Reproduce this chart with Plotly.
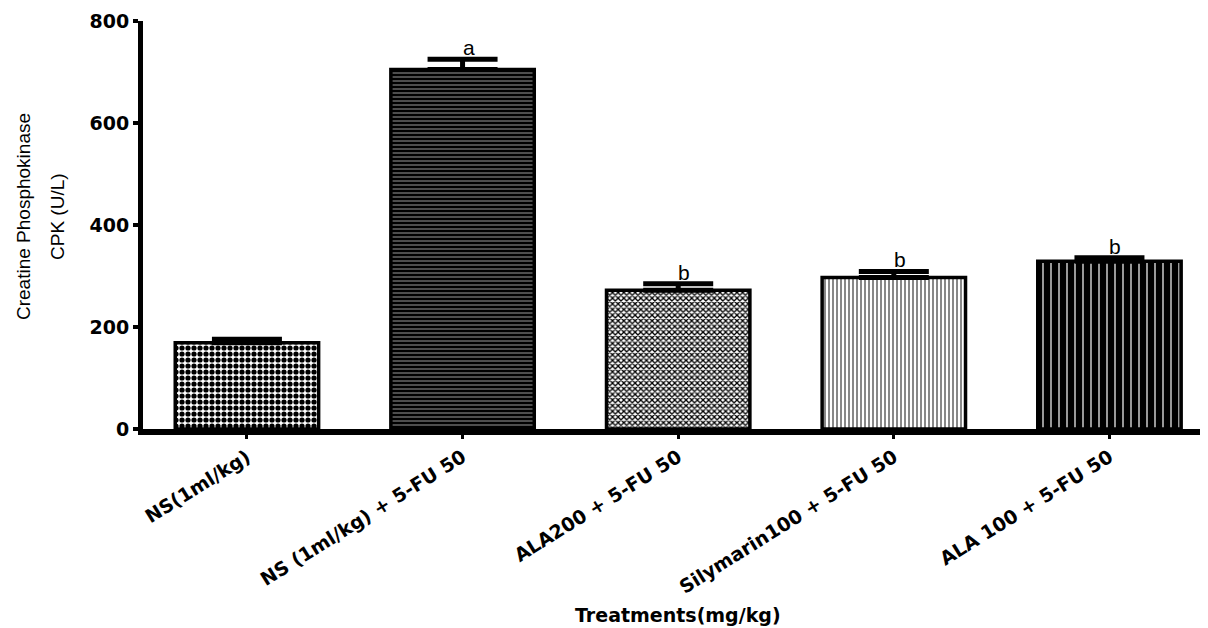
import plotly.graph_objects as go

categories = ["NS(1ml/kg)", "NS (1ml/kg) + 5-FU 50", "ALA200 + 5-FU 50",
              "Silymarin100 + 5-FU 50", "ALA 100 + 5-FU 50"]
cpk_mean = [169, 705, 272, 297, 329]
cpk_sem = [7, 20, 13, 12, 7]
sig_letters = ["", "a", "b", "b", "b"]
y_ticks = [0, 200, 400, 600, 800]

patterns = [
    dict(shape=".", fgcolor="black", bgcolor="white", size=6, solidity=0.6, fillmode="replace"),
    dict(shape="-", fgcolor="black", bgcolor="white", size=4, solidity=0.85, fillmode="replace"),
    dict(shape="x", fgcolor="black", bgcolor="white", size=4, solidity=0.55, fillmode="replace"),
    dict(shape="|", fgcolor="#555555", bgcolor="white", size=4, solidity=0.35, fillmode="replace"),
    dict(shape="|", fgcolor="white", bgcolor="black", size=8, solidity=0.15, fillmode="replace"),
]

fig = go.Figure()
for i, cat in enumerate(categories):
    fig.add_trace(go.Bar(
        x=[cat], y=[cpk_mean[i]],
        width=0.665,
        marker=dict(color="white", pattern=patterns[i],
                    line=dict(color="black", width=3.5)),
        error_y=dict(type="data", array=[cpk_sem[i]], arrayminus=[0],
                     symmetric=False, color="black", thickness=5, width=35),
        showlegend=False,
    ))

for i, cat in enumerate(categories):
    if sig_letters[i]:
        fig.add_annotation(x=cat, y=cpk_mean[i] + cpk_sem[i], text=sig_letters[i],
                           showarrow=False, yanchor="bottom", xshift=6, yshift=-2,
                           font=dict(family="Liberation Sans", size=21, color="black"))

fig.add_annotation(xref="x", x=2, yref="paper", y=0, yshift=-186,
                   text="Treatments(mg/kg)", showarrow=False, yanchor="middle",
                   font=dict(family="DejaVu Sans", size=19, color="black", weight="bold"))
fig.add_annotation(xref="paper", x=0, xshift=-120, yref="paper", y=0.5, yshift=8,
                   text="Creatine Phosphokinase", showarrow=False,
                   textangle=-90, xanchor="center", yanchor="middle",
                   font=dict(family="Liberation Sans", size=19, color="black"))
fig.add_annotation(xref="paper", x=0, xshift=-86, yref="paper", y=0.5, yshift=8,
                   text="CPK (U/L)", showarrow=False,
                   textangle=-90, xanchor="center", yanchor="middle",
                   font=dict(family="Liberation Sans", size=19, color="black"))

fig.update_layout(
    width=1200, height=620,
    margin=dict(l=135, r=0, t=13, b=199),
    plot_bgcolor="white", paper_bgcolor="white",
    barmode="overlay",
    xaxis=dict(range=[-0.482, 4.457], showline=True, linewidth=6, linecolor="black",
               ticks="outside", ticklen=4, tickwidth=3, tickcolor="black",
               tickangle=-32, showgrid=False, zeroline=False, automargin=False,
               tickfont=dict(family="DejaVu Sans", size=19, color="black", weight="bold")),
    yaxis=dict(range=[0, 800], tickvals=y_ticks, showline=True, linewidth=5,
               linecolor="black", ticks="outside", ticklen=5, tickwidth=4,
               tickcolor="black", showgrid=False, zeroline=False, automargin=False,
               tickfont=dict(family="DejaVu Sans", size=19, color="black", weight="bold")),
)

fig.write_html("out.html")
